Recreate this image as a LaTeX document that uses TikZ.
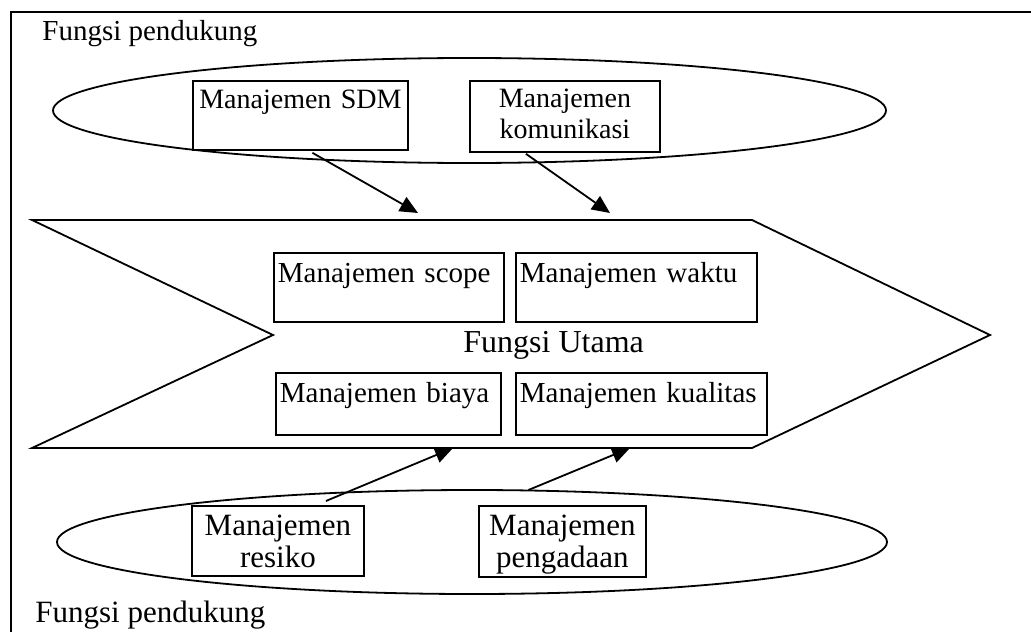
\documentclass[tikz,border=0pt]{standalone}
\usepackage{fontspec}
\setmainfont{Liberation Serif}
\usepackage{tikz}
\usetikzlibrary{arrows.meta, calc, shapes.geometric}

\tikzset{
  mbox/.style={draw, fill=white, line width=0.9pt, inner sep=0pt, anchor=north west},
  ring/.style={draw, ellipse, line width=0.9pt, inner sep=0pt},
  ringtext/.style={font=\fontsize{14}{15.5}\selectfont, align=center},
  coretext/.style={font=\fontsize{14.5}{15.5}\selectfont, align=left, inner xsep=2pt},
  lowtext/.style={font=\fontsize{15.5}{16}\selectfont, align=center},
  caption/.style={anchor=base west, inner sep=0pt},
  flow/.style={line width=0.9pt, -{Triangle[length=9pt,width=8pt]}},
}

\begin{document}
\begin{tikzpicture}[x=0.5pt,y=-0.5pt]
\useasboundingbox (0,0) rectangle (1031,631);
% outer frame, runs off the page
\draw[line width=0.8pt] (11,12) rectangle (1060,660);
\node[caption, font=\fontsize{14.5}{16}\selectfont] (toplabel) at (42,41) {Fungsi pendukung};
\node[caption, font=\fontsize{15.5}{17}\selectfont] (lowlabel) at (35,622) {Fungsi pendukung};

% upper support ring
\node[ring, minimum width=416.5pt, minimum height=52.5pt] (topring) at (469.5,110.5) {};
\node[mbox, ringtext, text width=107.5pt, text height=14pt, text depth=20.5pt] (sdm) at (192,80) {Manajemen SDM};
\node[mbox, ringtext, text width=95pt, text height=13.5pt, text depth=22pt] (kom) at (469,80) {Manajemen\\komunikasi};

% main chevron
\path coordinate (ctl) at (32,220)
      coordinate (ctr) at (752,220)
      coordinate (tip) at (990,335)
      coordinate (cbr) at (752,448)
      coordinate (cbl) at (32,448)
      coordinate (notch) at (273,335);
\draw[line width=0.9pt, fill=white] (ctl) -- (ctr) -- (tip) -- (cbr) -- (cbl) -- (notch) -- cycle;
\node[mbox, coretext, text width=111pt, text height=15pt, text depth=19.5pt] (scope) at (273,252) {Manajemen scope};
\node[mbox, coretext, text width=116.5pt, text height=15pt, text depth=19.5pt] (waktu) at (515,252) {Manajemen waktu};
\node[mbox, coretext, text width=108.5pt, text height=15pt, text depth=16pt] (biaya) at (275,372) {Manajemen biaya};
\node[mbox, coretext, text width=121.5pt, text height=15pt, text depth=16pt] (kual) at (515,372) {Manajemen kualitas};
\node[caption, font=\fontsize{16}{18}\selectfont] (utama) at (463,352) {Fungsi Utama};

% lower support ring
\node[ring, minimum width=415pt, minimum height=52pt] (lowring) at (472,542) {};
\node[mbox, lowtext, text width=86pt, text height=15pt, text depth=20pt] (res) at (191,505) {Manajemen\\resiko};
\node[mbox, lowtext, text width=83.5pt, text height=15pt, text depth=20.5pt] (pen) at (478,505) {Manajemen\\pengadaan};

% arrows into the chevron
\path coordinate (in1) at (418,213)
      coordinate (in2) at (610,213)
      coordinate (up1) at (453,448)
      coordinate (up2) at (630,448);
\draw[flow] ($(sdm.south)+(12,2)$) -- (in1);
\draw[flow] ($(kom.south)+(-39,1)$) -- (in2);
\draw[flow] ($(res.north)+(48,-4)$) -- (up1);
\draw[flow] ($(pen.north)+(-34,-15)$) -- (up2);
\end{tikzpicture}
\end{document}
